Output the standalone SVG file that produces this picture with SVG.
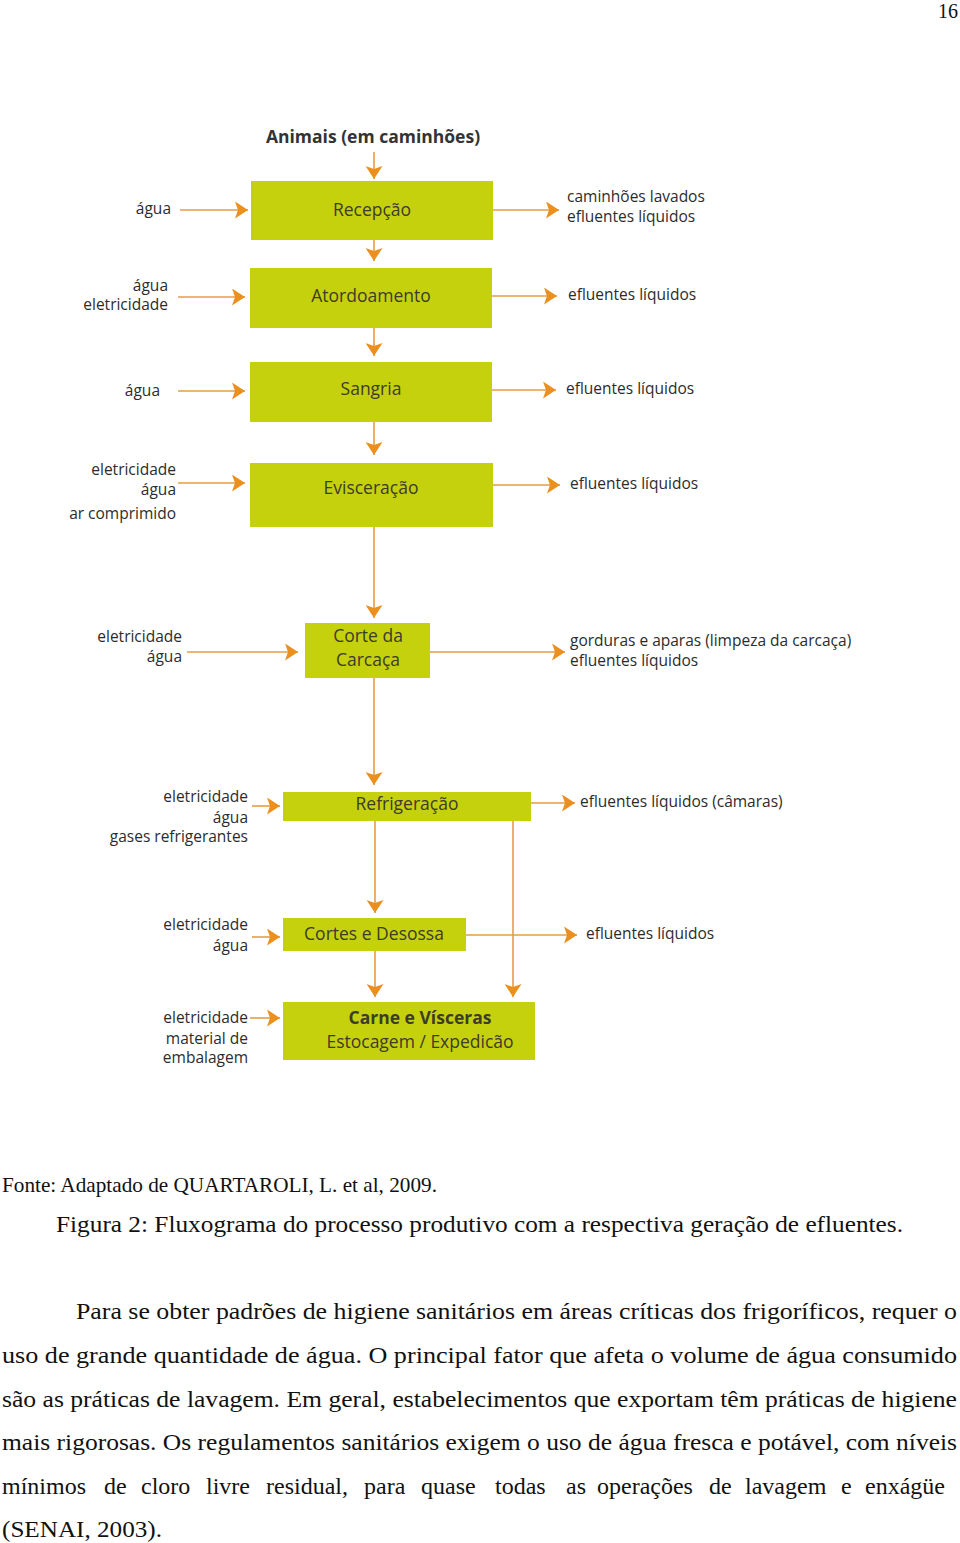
<svg xmlns="http://www.w3.org/2000/svg" width="960" height="1543" viewBox="0 0 960 1543">
<defs>
<marker id="ah" markerUnits="userSpaceOnUse" viewBox="0 0 13 17" refX="13" refY="8.5" markerWidth="13" markerHeight="17" orient="auto">
<path d="M0,0 L13,8.5 L0,17 L3,8.5 z" fill="#eb8f1e"/>
</marker>
<style>
.box{fill:#c6d10e;}
.bt{font-family:"Open Sans","Liberation Sans",sans-serif;font-size:17.5px;fill:#3c3c28;text-anchor:middle;}
.bb{font-weight:bold;}
.lb{font-family:"Open Sans","Liberation Sans",sans-serif;font-size:15.5px;fill:#2c2c2c;}
.le{text-anchor:end;}
.cn line{stroke:#e59d45;stroke-width:1.6;fill:none;marker-end:url(#ah);}
.tx{font-family:"Liberation Serif","Times New Roman",serif;fill:#111;}
</style>
</defs>
<rect width="960" height="1543" fill="#ffffff"/>
<text class="tx" x="958" y="18" font-size="20" text-anchor="end">16</text>

<g id="title"><text class="bt bb" x="373" y="143" style="fill:#333">Animais (em caminhões)</text></g>

<g id="recepcao"><rect class="box" x="251" y="181" width="242" height="59"/><text class="bt" x="372" y="216">Recepção</text></g>
<g id="atordoamento"><rect class="box" x="250" y="268" width="242" height="60"/><text class="bt" x="371" y="302">Atordoamento</text></g>
<g id="sangria"><rect class="box" x="250" y="362" width="242" height="60"/><text class="bt" x="371" y="395">Sangria</text></g>
<g id="evisceracao"><rect class="box" x="250" y="463" width="243" height="64"/><text class="bt" x="371" y="494">Evisceração</text></g>
<g id="corte"><rect class="box" x="305" y="623" width="125" height="55"/><text class="bt" x="368" y="642">Corte da</text><text class="bt" x="368" y="666">Carcaça</text></g>
<g id="refrigeracao"><rect class="box" x="283" y="792" width="248" height="29"/><text class="bt" x="407" y="810">Refrigeração</text></g>
<g id="cortes"><rect class="box" x="283" y="918" width="183" height="33"/><text class="bt" x="374" y="940">Cortes e Desossa</text></g>
<g id="carne"><rect class="box" x="283" y="1002" width="252" height="58"/><text class="bt bb" x="420" y="1024">Carne e Vísceras</text><text class="bt" x="420" y="1048">Estocagem / Expedicão</text></g>

<g id="inputs">
<text class="lb le" x="171" y="214">água</text>
<text class="lb le" x="168" y="291">água</text>
<text class="lb le" x="168" y="310">eletricidade</text>
<text class="lb le" x="160" y="396">água</text>
<text class="lb le" x="176" y="475">eletricidade</text>
<text class="lb le" x="176" y="495">água</text>
<text class="lb le" x="176" y="519">ar comprimido</text>
<text class="lb le" x="182" y="642">eletricidade</text>
<text class="lb le" x="182" y="662">água</text>
<text class="lb le" x="248" y="802">eletricidade</text>
<text class="lb le" x="248" y="823">água</text>
<text class="lb le" x="248" y="842">gases refrigerantes</text>
<text class="lb le" x="248" y="930">eletricidade</text>
<text class="lb le" x="248" y="951">água</text>
<text class="lb le" x="248" y="1023">eletricidade</text>
<text class="lb le" x="248" y="1044">material de</text>
<text class="lb le" x="248" y="1063">embalagem</text>
</g>

<g id="outputs">
<text class="lb" x="567" y="202">caminhões lavados</text>
<text class="lb" x="567" y="222">efluentes líquidos</text>
<text class="lb" x="568" y="300">efluentes líquidos</text>
<text class="lb" x="566" y="394">efluentes líquidos</text>
<text class="lb" x="570" y="489">efluentes líquidos</text>
<text class="lb" x="570" y="646">gorduras e aparas (limpeza da carcaça)</text>
<text class="lb" x="570" y="666">efluentes líquidos</text>
<text class="lb" x="580" y="807">efluentes líquidos (câmaras)</text>
<text class="lb" x="586" y="939">efluentes líquidos</text>
</g>

<g id="connectors" class="cn">
<line x1="374" y1="152" x2="374" y2="179"/>
<line x1="374" y1="240" x2="374" y2="261"/>
<line x1="374" y1="328" x2="374" y2="356"/>
<line x1="374" y1="422" x2="374" y2="455"/>
<line x1="374" y1="527" x2="374" y2="618"/>
<line x1="374" y1="678" x2="374" y2="785"/>
<line x1="375" y1="821" x2="375" y2="913"/>
<line x1="375" y1="951" x2="375" y2="997"/>
<line x1="513" y1="821" x2="513" y2="997"/>
<line x1="180" y1="210" x2="248" y2="210"/>
<line x1="178" y1="297" x2="245" y2="297"/>
<line x1="178" y1="391" x2="245" y2="391"/>
<line x1="178" y1="483" x2="245" y2="483"/>
<line x1="187" y1="652" x2="298" y2="652"/>
<line x1="252" y1="806" x2="280" y2="806"/>
<line x1="252" y1="937" x2="280" y2="937"/>
<line x1="250" y1="1018" x2="280" y2="1018"/>
<line x1="493" y1="210" x2="559" y2="210"/>
<line x1="492" y1="296" x2="557" y2="296"/>
<line x1="492" y1="390" x2="556" y2="390"/>
<line x1="493" y1="485" x2="560" y2="485"/>
<line x1="430" y1="652" x2="565" y2="652"/>
<line x1="531" y1="803" x2="575" y2="803"/>
<line x1="466" y1="935" x2="577" y2="935"/>
</g>

<g id="caption">
<text class="tx" x="2" y="1192" font-size="21" textLength="435" lengthAdjust="spacingAndGlyphs">Fonte: Adaptado de QUARTAROLI, L. et al, 2009.</text>
<text class="tx" x="56" y="1232" font-size="24" textLength="847" lengthAdjust="spacingAndGlyphs">Figura 2: Fluxograma do processo produtivo com a respectiva geração de efluentes.</text>
</g>
<g id="paragraph" class="tx" font-size="24">
<text x="76" y="1319" textLength="881" lengthAdjust="spacingAndGlyphs">Para se obter padrões de higiene sanitários em áreas críticas dos frigoríficos, requer o</text>
<text x="2" y="1363" textLength="955" lengthAdjust="spacingAndGlyphs">uso de grande quantidade de água. O principal fator que afeta o volume de água consumido</text>
<text x="2" y="1407" textLength="955" lengthAdjust="spacingAndGlyphs">são as práticas de lavagem. Em geral, estabelecimentos que exportam têm práticas de higiene</text>
<text x="2" y="1450" textLength="955" lengthAdjust="spacingAndGlyphs">mais rigorosas. Os regulamentos sanitários exigem o uso de água fresca e potável, com níveis</text>
<text y="1494"><tspan x="2">mínimos</tspan> <tspan x="104">de</tspan> <tspan x="141">cloro</tspan> <tspan x="206">livre</tspan> <tspan x="266">residual,</tspan> <tspan x="364">para</tspan> <tspan x="421">quase</tspan> <tspan x="495">todas</tspan> <tspan x="566">as</tspan> <tspan x="597">operações</tspan> <tspan x="709">de</tspan> <tspan x="745">lavagem</tspan> <tspan x="841">e</tspan> <tspan x="865">enxágüe</tspan></text>
<text x="2" y="1537" textLength="160" lengthAdjust="spacingAndGlyphs">(SENAI, 2003).</text>
</g>
</svg>
